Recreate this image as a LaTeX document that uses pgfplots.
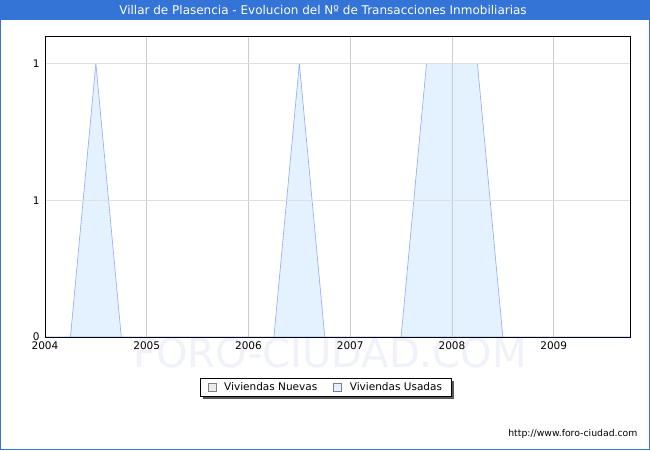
\documentclass[border=0pt]{standalone}
\usepackage{pgfplots}
\pgfplotsset{compat=1.18}
\usepackage{fontspec}
\setmainfont{DejaVu Sans}
\definecolor{titleblue}{RGB}{52,116,214}
\definecolor{usadafill}{RGB}{228,241,254}
\definecolor{usadaline}{RGB}{138,172,236}
\definecolor{gridgray}{RGB}{204,204,204}
\definecolor{hgridgray}{RGB}{224,224,224}
\definecolor{wmark}{RGB}{240,242,250}
\begin{document}
\begin{tikzpicture}[x=1pt,y=1pt]
% page frame and title bar
\fill[white] (0,0) rectangle (650,450);
\fill[titleblue] (0,430) rectangle (650,450);
\draw[titleblue,line width=1.2pt] (0.6,0.6) rectangle (649.4,449.4);
\node[white,font=\fontsize{12}{14}\selectfont] at (323,439.5)
  {Villar de Plasencia - Evolucion del Nº de Transacciones Inmobiliarias};
% watermark
\node[text=wmark,font=\fontsize{40}{42}\selectfont] at (330,97) {FORO-CIUDAD.COM};
\begin{axis}[
  at={(45pt,113pt)}, anchor=south west,
  scale only axis, width=585pt, height=301pt,
  xmin=2004, xmax=2009.75, ymin=0, ymax=1.1,
  xtick={2004,2005,...,2009},
  xticklabels={2004,2005,2006,2007,2008,2009},
  ytick={0,0.5,1}, yticklabels={0,1,1},
  tick style={draw=none},
  tick label style={font=\fontsize{10.5}{12}\selectfont},
  /pgf/number format/assume math mode=true,
  xticklabel style={yshift=-1pt},
  yticklabel style={xshift=-2pt},
  xmajorgrids, ymajorgrids,
  x grid style={gridgray, line width=0.6pt},
  y grid style={hgridgray, line width=0.6pt},
  axis line style={black, line width=0.9pt},
  axis on top,
  legend style={at={(0.48,-0.135)}, anchor=north, legend columns=2,
    font=\fontsize{10.5}{12}\selectfont, draw=black, line width=0.6pt,
    inner xsep=7pt, inner ysep=2.3pt, name=leg,
    /tikz/every odd column/.append style={column sep=6pt},
    /tikz/every even column/.append style={column sep=14pt}},
]
\addlegendimage{legend image code/.code={\draw[black!50, fill=black!8] (0pt,-4pt) rectangle (8pt,4pt);}}
\addlegendentry{Viviendas Nuevas}
\addlegendimage{legend image code/.code={\draw[black!50, fill=usadafill] (0pt,-4pt) rectangle (8pt,4pt);}}
\addlegendentry{Viviendas Usadas}
% Viviendas Usadas (quarterly)
\addplot[usadaline, line width=0.6pt, fill=usadafill, forget plot] table {
2004.00 0
2004.25 0
2004.50 1
2004.75 0
2005.00 0
2005.25 0
2005.50 0
2005.75 0
2006.00 0
2006.25 0
2006.50 1
2006.75 0
2007.00 0
2007.25 0
2007.50 0
2007.75 1
2008.00 1
2008.25 1
2008.50 0
2008.75 0
2009.00 0
2009.25 0
2009.50 0
2009.75 0
} \closedcycle;
\end{axis}
% legend shadow
\fill[black!65] ([xshift=3pt,yshift=-3pt]leg.south west) rectangle ([xshift=3pt,yshift=-0.3pt]leg.south east);
\fill[black!65] ([xshift=0.3pt,yshift=-3pt]leg.south east) rectangle ([xshift=3pt,yshift=-3pt]leg.north east);
\node[font=\fontsize{9.3}{11}\selectfont, anchor=east] at (641,16) {http://www.foro-ciudad.com};
\end{tikzpicture}
\end{document}
